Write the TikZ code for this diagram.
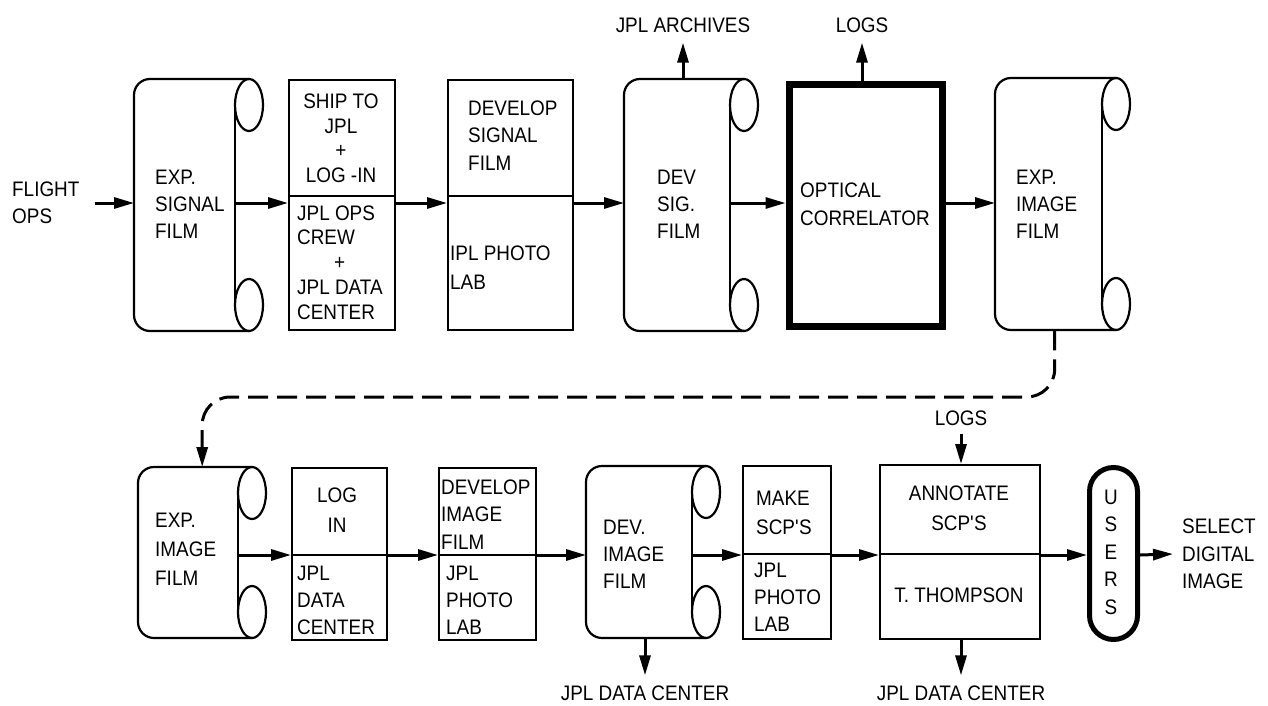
\documentclass[tikz,border=0pt]{standalone}
\usepackage{fontspec}
\setmainfont{Liberation Sans}[FakeStretch=0.9]
\usetikzlibrary{arrows.meta}
\newcommand\filmroll[5]{%
  \node[inner sep=0pt, minimum width={#3-#2}, minimum height={#5-#4}, anchor=north west] (#1) at (#2,#4) {};
  \draw[fl, rounded corners=16pt] (#3+14,#4) -- (#2,#4) -- (#2,#5) -- (#3+14,#5);
  \draw[fl] (#3,#4+26) -- (#3,#5-26);
  \draw[fl] (#3+14,#4+26) ellipse[x radius=14, y radius=26];
  \draw[fl] (#3+14,#5-26) ellipse[x radius=14, y radius=26];
}
\begin{document}
\begin{tikzpicture}[x=1pt,y=-1pt,
  box/.style={draw, line width=2.2pt, inner sep=0pt, anchor=north west},
  fl/.style={line width=2.2pt},
  conn/.style={line width=3pt, -{Triangle[length=20pt,width=11pt]}},
  dconn/.style={line width=3pt, dash pattern=on 20pt off 9pt, rounded corners=28pt, -{Triangle[length=20pt,width=11pt]}},
  txt/.style={inner sep=0pt, font=\fontsize{21}{27}\selectfont, align=left, anchor=west},
  ctxt/.style={inner sep=0pt, font=\fontsize{21}{27}\selectfont, align=center},
]
\useasboundingbox (0,0) rectangle (1268,706);
\coordinate (ra) at (0,203);
\coordinate (rb) at (0,555);
\coordinate (dm) at (600,397);

% ---------- top row ----------
\filmroll{F1}{134}{235}{79}{331}
\node[box, minimum width=106, minimum height=250] (B2) at (288,79) {};
\draw[fl] (B2.west |- 0,196) -- (B2.east |- 0,196);
\node[box, minimum width=125, minimum height=250] (B3) at (447,79) {};
\draw[fl] (B3.west |- 0,196) -- (B3.east |- 0,196);
\filmroll{F4}{624}{730}{79}{331}
\node[box, line width=7pt, minimum width=153, minimum height=241.5] (OC) at (785.5,81.5) {};
\filmroll{F6}{995}{1102}{78}{330}

\node[txt] (fo) at (12,203) {FLIGHT\\OPS};
\node[txt] at (155,204) {EXP.\\SIGNAL\\FILM};
\node[ctxt, font=\fontsize{21}{24.5}\selectfont] at (341,138.5) {SHIP TO\\JPL\\+\\LOG -IN};
\node[txt, font=\fontsize{21}{24.8}\selectfont] at (297,262.5) {JPL OPS\\CREW\\\hspace*{37pt}+\\JPL DATA\\CENTER};
\node[txt, font=\fontsize{21}{27.5}\selectfont] at (468,135.5) {DEVELOP\\SIGNAL\\FILM};
\node[txt, font=\fontsize{21}{29}\selectfont] at (450,267.5) {IPL PHOTO\\LAB};
\node[txt] at (657,204) {DEV\\SIG.\\FILM};
\node[txt, font=\fontsize{21}{28}\selectfont] at (800,204) {OPTICAL\\CORRELATOR};
\node[txt] at (1016,204) {EXP.\\IMAGE\\FILM};
\node[ctxt] (ja) at (683,25) {JPL ARCHIVES};
\node[ctxt] (lg1) at (862,25) {LOGS};

\draw[conn] ([xshift=15pt]fo.east) -- (F1.west |- fo.east);
\draw[conn] (F1.east |- ra) -- (B2.west |- ra);
\draw[conn] (B2.east |- ra) -- (B3.west |- ra);
\draw[conn] (B3.east |- ra) -- (F4.west |- ra);
\draw[conn] (F4.east |- ra) -- (OC.west |- ra);
\draw[conn] (OC.east |- ra) -- (F6.west |- ra);
\draw[conn] (F4.north -| ja.south) -- ([yshift=-10pt]ja.south);
\draw[conn] (OC.north -| lg1.south) -- ([yshift=-10pt]lg1.south);

% ---------- bottom row ----------
\filmroll{G1}{138}{238}{467}{638}
\node[box, minimum width=95, minimum height=172] (L2) at (291,467) {};
\draw[fl] (L2.west |- 0,555) -- (L2.east |- 0,555);
\node[box, minimum width=97, minimum height=172] (L3) at (438,467) {};
\draw[fl] (L3.west |- 0,555) -- (L3.east |- 0,555);
\filmroll{G4}{586}{692}{466}{638}
\node[box, minimum width=88, minimum height=173] (L5) at (742,465) {};
\draw[fl] (L5.west |- 0,554) -- (L5.east |- 0,554);
\node[box, minimum width=160, minimum height=174] (L6) at (879,464) {};
\draw[fl] (L6.west |- 0,554) -- (L6.east |- 0,554);
\node[box, line width=5pt, rounded corners=24pt, minimum width=48, minimum height=172] (US) at (1087,465) {};

\node[txt, font=\fontsize{21}{29}\selectfont] at (155,549) {EXP.\\IMAGE\\FILM};
\node[ctxt, font=\fontsize{21}{30}\selectfont] at (337,510) {LOG\\IN};
\node[txt] at (297,600) {JPL\\DATA\\CENTER};
\node[txt, font=\fontsize{21}{27.5}\selectfont] at (441,514.5) {DEVELOP\\IMAGE\\FILM};
\node[txt] at (446,600) {JPL\\PHOTO\\LAB};
\node[txt] at (603,554) {DEV.\\IMAGE\\FILM};
\node[txt, font=\fontsize{21}{29}\selectfont] at (756,512.5) {MAKE\\SCP\textquotesingle S};
\node[txt] at (754,597.5) {JPL\\PHOTO\\LAB};
\node[ctxt, font=\fontsize{21}{30}\selectfont] at (959,508) {ANNOTATE\\SCP\textquotesingle S};
\node[ctxt] at (959,595) {T. THOMPSON};
\node[ctxt, font=\fontsize{21}{27.5}\selectfont] at (1111,552) {U\\S\\E\\R\\S};
\node[txt, font=\fontsize{21}{27.5}\selectfont] (sel) at (1182,554) {SELECT\\DIGITAL\\IMAGE};
\node[ctxt] (lg2) at (961,418) {LOGS};
\node[ctxt] (dc1) at (645,693) {JPL DATA CENTER};
\node[ctxt] (dc2) at (961,693) {JPL DATA CENTER};

\draw[conn] (G1.east |- rb) -- (L2.west |- rb);
\draw[conn] (L2.east |- rb) -- (L3.west |- rb);
\draw[conn] (L3.east |- rb) -- (G4.west |- rb);
\draw[conn] (G4.east |- rb) -- (L5.west |- rb);
\draw[conn] (L5.east |- rb) -- (L6.west |- rb);
\draw[conn] (L6.east |- rb) -- (US.west |- rb);
\draw[conn] (US.east |- rb) -- ([xshift=-9pt]sel.west);
\draw[conn] ([yshift=-8pt]lg2.south) -- (L6.north -| lg2.south);
\draw[conn] (G4.south -| dc1.north) -- ([yshift=10pt]dc1.north);
\draw[conn] (L6.south -| dc2.north) -- ([yshift=10pt]dc2.north);

% ---------- dashed link ----------
\draw[dconn] ([xshift=6pt]F6.south) |- (dm) -| ([xshift=14pt]G1.north);
\end{tikzpicture}
\end{document}
